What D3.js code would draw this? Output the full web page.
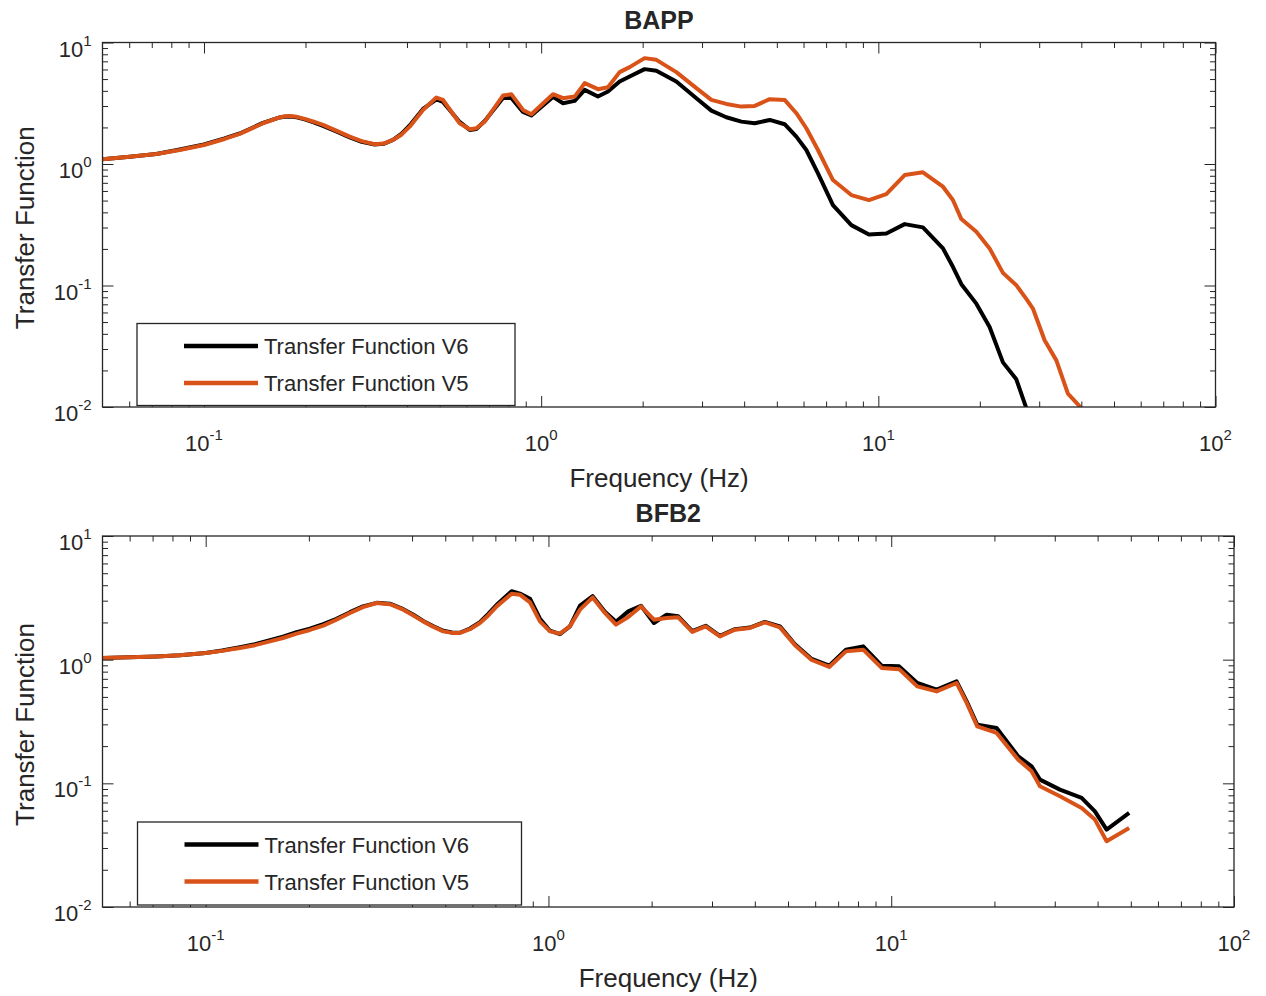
<!DOCTYPE html>
<html>
<head>
<meta charset="utf-8">
<script src="https://cdn.jsdelivr.net/npm/d3@7"></script>
<style>
  body { margin: 0; background: #fff; }
  text { font-family: "Liberation Sans", Arial, sans-serif; fill: #262626; }
</style>
</head>
<body>
<div id="chart"></div>
<script>
// frequencies (Hz) and transfer function values
const bappFreq = [0.05, 0.0602, 0.0722, 0.0847, 0.1, 0.1151, 0.1276, 0.1496, 0.1677, 0.1735,
  0.1795, 0.1883, 0.1989, 0.2115, 0.2254, 0.2458, 0.2705, 0.2935, 0.3209, 0.3411,
  0.3635, 0.3858, 0.4074, 0.4462, 0.4889, 0.5114, 0.573, 0.6137, 0.6424, 0.6802,
  0.7704, 0.8157, 0.8832, 0.9353, 1.084, 1.161, 1.257, 1.346, 1.474, 1.578,
  1.709, 1.83, 2.027, 2.196, 2.517, 2.886, 3.197, 3.541, 3.924, 4.298,
  4.762, 5.274, 5.713, 6.116, 6.622, 7.334, 8.317, 9.378, 10.56, 11.97,
  13.56, 15.55, 16.64, 17.63, 19.53, 21.38, 23.42, 25.66, 27.47, 28.74,
  31.13, 33.73, 36.5, 40.0];
const bappV6 = [1.093, 1.147, 1.209, 1.317, 1.448, 1.623, 1.784, 2.178, 2.417, 2.45,
  2.464, 2.427, 2.328, 2.199, 2.058, 1.861, 1.654, 1.524, 1.448, 1.467,
  1.577, 1.774, 2.077, 2.841, 3.402, 3.244, 2.22, 1.907, 1.943, 2.262,
  3.5, 3.5, 2.684, 2.511, 3.567, 3.165, 3.306, 4.074, 3.588, 3.945,
  4.77, 5.245, 6.036, 5.845, 4.77, 3.481, 2.75, 2.427, 2.232, 2.165,
  2.305, 2.125, 1.679, 1.304, 0.838, 0.459, 0.314, 0.263, 0.268, 0.32,
  0.301, 0.202, 0.1426, 0.1025, 0.0709, 0.0456, 0.0233, 0.0169, 0.0098, null,
  null, null, null, null];
const bappV5 = [1.093, 1.147, 1.209, 1.304, 1.434, 1.607, 1.768, 2.165, 2.417, 2.469,
  2.487, 2.445, 2.35, 2.228, 2.097, 1.889, 1.679, 1.542, 1.454, 1.473,
  1.577, 1.751, 2.03, 2.787, 3.521, 3.37, 2.165, 1.932, 1.969, 2.232,
  3.657, 3.755, 2.787, 2.569, 3.755, 3.481, 3.588, 4.627, 4.128, 4.289,
  5.702, 6.27, 7.436, 7.2, 5.702, 4.208, 3.37, 3.123, 2.968, 3.007,
  3.415, 3.37, 2.618, 1.969, 1.304, 0.738, 0.555, 0.505, 0.566, 0.811,
  0.854, 0.65, 0.505, 0.352, 0.2767, 0.202, 0.127, 0.1006, 0.0775, 0.0646,
  0.0354, 0.0242, 0.0129, 0.0098];

const bfb2Freq = [0.05, 0.0719, 0.0841, 0.1, 0.1116, 0.1259, 0.1393, 0.154, 0.1681, 0.1842,
  0.2014, 0.2203, 0.2399, 0.2636, 0.2876, 0.3154, 0.3448, 0.3771, 0.4025, 0.4312,
  0.4603, 0.4932, 0.5232, 0.5518, 0.5902, 0.631, 0.6664, 0.7063, 0.7808, 0.8259,
  0.8833, 0.9445, 1.01, 1.08, 1.155, 1.236, 1.346, 1.461, 1.574, 1.709,
  1.862, 2.031, 2.212, 2.391, 2.628, 2.874, 3.164, 3.5, 3.871, 4.28,
  4.735, 5.238, 5.859, 6.594, 7.378, 8.285, 9.376, 10.55, 11.91, 13.57,
  15.51, 16.6, 17.82, 20.3, 23.47, 25.68, 27.16, 31.06, 35.93, 39.29,
  42.5, 49.45];
const bfb2V6 = [1.032, 1.063, 1.087, 1.133, 1.187, 1.262, 1.335, 1.438, 1.534, 1.668,
  1.781, 1.936, 2.133, 2.421, 2.697, 2.88, 2.836, 2.56, 2.319, 2.055,
  1.873, 1.715, 1.659, 1.65, 1.787, 2.01, 2.332, 2.78, 3.579, 3.42,
  3.112, 2.145, 1.715, 1.608, 1.858, 2.733, 3.26, 2.443, 2.029, 2.458,
  2.73, 1.98, 2.311, 2.24, 1.7, 1.88, 1.56, 1.765, 1.82, 2.02,
  1.86, 1.334, 1.013, 0.894, 1.205, 1.281, 0.894, 0.883, 0.648, 0.572,
  0.668, 0.46, 0.298, 0.2805, 0.1653, 0.1372, 0.1071, 0.089, 0.0762, 0.0594,
  0.0422, 0.0576];
const bfb2V5 = [1.032, 1.063, 1.087, 1.133, 1.178, 1.243, 1.31, 1.406, 1.497, 1.623,
  1.739, 1.883, 2.094, 2.385, 2.658, 2.872, 2.81, 2.536, 2.289, 2.04,
  1.848, 1.693, 1.646, 1.643, 1.764, 1.98, 2.268, 2.697, 3.417, 3.354,
  2.905, 2.04, 1.693, 1.623, 1.858, 2.536, 3.188, 2.385, 1.919, 2.214,
  2.697, 2.105, 2.174, 2.198, 1.675, 1.858, 1.543, 1.748, 1.804, 2.002,
  1.824, 1.31, 0.994, 0.873, 1.167, 1.205, 0.857, 0.838, 0.608, 0.554,
  0.648, 0.447, 0.289, 0.2555, 0.1554, 0.125, 0.0946, 0.0785, 0.0633, 0.0509,
  0.034, 0.0436];

const seriesNames = ["Transfer Function V6", "Transfer Function V5"];
const xTickExps = [-1, 0, 1, 2];
const yTickExps = [-2, -1, 0, 1];

const colors = ["#000000", "#D95319"];
const axisColor = "#262626";

const svg = d3.select("#chart").append("svg")
  .attr("width", 1266).attr("height", 996);

svg.append("rect").attr("width", 1266).attr("height", 996).attr("fill", "#fff");

// minor ticks 2..9 per decade inside a domain
const minorTicks = (domain) => {
  const out = [];
  const lo = Math.floor(Math.log10(domain[0])), hi = Math.ceil(Math.log10(domain[1]));
  for (let e = lo; e < hi; e++) {
    for (let k = 2; k <= 9; k++) {
      const v = k * Math.pow(10, e);
      if (v > domain[0] * 1.0001 && v < domain[1]) out.push(v);
    }
  }
  return out;
};

const powerLabel = (sel, exp) => {
  sel.append("tspan").text("10");
  sel.append("tspan").attr("dy", -11).style("font-size", "15px").text(exp);
};

const drawPanel = (p) => {
  const { left, top, width, height } = p;
  const g = svg.append("g").attr("transform", `translate(${left},${top})`);

  const x = d3.scaleLog().domain([0.05, 100]).range([0, width]);
  const y = d3.scaleLog().domain([0.01, 10]).range([height, 0]);

  const xMajor = xTickExps.map((e) => Math.pow(10, e));
  const yMajor = yTickExps.map((e) => Math.pow(10, e));
  const xMinor = minorTicks(x.domain());
  const yMinor = minorTicks(y.domain());

  // curves
  const clipId = "clip-" + p.title;
  g.append("clipPath").attr("id", clipId)
    .append("rect").attr("width", width).attr("height", height);

  const curves = [p.v6, p.v5];
  curves.forEach((vals, i) => {
    const pts = p.freq.map((f, j) => [f, vals[j]]);
    const line = d3.line()
      .defined((d) => d[1] != null)
      .x((d) => x(d[0]))
      .y((d) => y(d[1]));
    g.append("path")
      .datum(pts)
      .attr("clip-path", `url(#${clipId})`)
      .attr("fill", "none")
      .attr("stroke", colors[i])
      .attr("stroke-width", 4)
      .attr("stroke-linejoin", "round")
      .attr("d", line);
  });

  // axes with inward ticks on all four sides
  const axes = [
    [d3.axisBottom(x), `translate(0,${height})`, xMajor, xMinor],
    [d3.axisTop(x), "translate(0,0)", xMajor, xMinor],
    [d3.axisLeft(y), "translate(0,0)", yMajor, yMinor],
    [d3.axisRight(y), `translate(${width},0)`, yMajor, yMinor]
  ];
  axes.forEach(([ax, tr, major, minor]) => {
    [[major, 11], [minor, 5.5]].forEach(([vals, size]) => {
      const a = g.append("g").attr("transform", tr)
        .call(ax.tickValues(vals).tickSize(-size).tickSizeOuter(0).tickFormat(() => ""));
      a.select(".domain").remove();
      a.selectAll("line").attr("stroke", axisColor).attr("stroke-width", 1);
    });
  });

  g.append("rect")
    .attr("width", width).attr("height", height)
    .attr("fill", "none").attr("stroke", axisColor).attr("stroke-width", 1.3);

  // tick labels
  xTickExps.forEach((e) => {
    const t = g.append("text")
      .attr("x", x(Math.pow(10, e))).attr("y", height + 44)
      .attr("text-anchor", "middle").style("font-size", "22px");
    powerLabel(t, e);
  });
  yTickExps.forEach((e) => {
    const t = g.append("text")
      .attr("x", -11).attr("y", y(Math.pow(10, e)) + 14)
      .attr("text-anchor", "end").style("font-size", "22px");
    powerLabel(t, e);
  });

  // title and axis labels
  g.append("text")
    .attr("x", width / 2).attr("y", -14)
    .attr("text-anchor", "middle")
    .style("font-size", "25px").style("font-weight", "bold")
    .text(p.title);

  g.append("text")
    .attr("x", width / 2).attr("y", height + 80)
    .attr("text-anchor", "middle").style("font-size", "26px")
    .text("Frequency (Hz)");

  g.append("text")
    .attr("transform", `translate(${34 - left},${height / 2 + 3}) rotate(-90)`)
    .attr("text-anchor", "middle").style("font-size", "26px")
    .text("Transfer Function");

  // legend
  const lg = g.append("g").attr("transform", `translate(${p.legend.x},${p.legend.y})`);
  lg.append("rect")
    .attr("width", p.legend.w).attr("height", p.legend.h)
    .attr("fill", "#fff").attr("stroke", axisColor).attr("stroke-width", 1.3);
  seriesNames.forEach((name, i) => {
    const ry = 22.5 + i * 37;
    lg.append("line")
      .attr("x1", 47).attr("x2", 121).attr("y1", ry).attr("y2", ry)
      .attr("stroke", colors[i]).attr("stroke-width", 4.5);
    lg.append("text")
      .attr("x", 127).attr("y", ry + 8)
      .style("font-size", "22px")
      .text(name);
  });
};

drawPanel({ title: "BAPP", left: 102.5, top: 42.5, width: 1113, height: 364.5,
  freq: bappFreq, v6: bappV6, v5: bappV5,
  legend: { x: 34.5, y: 281, w: 378, h: 82 } });

drawPanel({ title: "BFB2", left: 102.5, top: 536, width: 1131.5, height: 371,
  freq: bfb2Freq, v6: bfb2V6, v5: bfb2V5,
  legend: { x: 35, y: 286, w: 384, h: 83 } });
</script>
</body>
</html>
